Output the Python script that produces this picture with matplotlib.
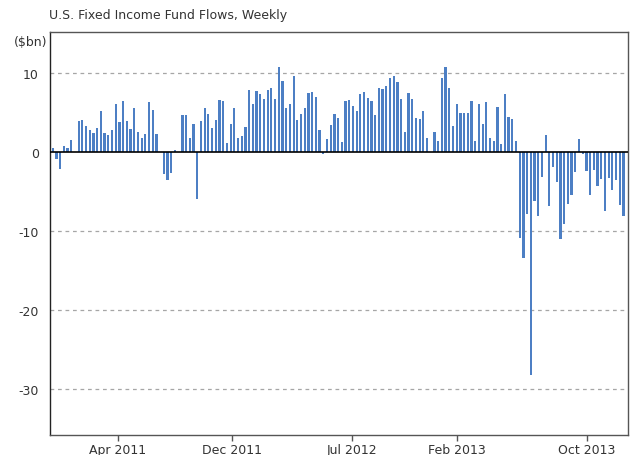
import numpy as np
import matplotlib
matplotlib.use('Agg')
from matplotlib import pyplot as plt

# weekly flows ($bn)
flows = [0.55, -0.9, -2.2, 0.75, 0.5, 1.5, 0, 3.9, 4.05, 3.25,
         2.8, 2.35, 3.1, 5.2, 2.35, 2.1, 2.8, 6.1, 3.85, 6.5,
         3.9, 2.95, 5.6, 2.55, 1.75, 2.3, 6.3, 5.3, 2.3, 0,
         -2.8, -3.5, -2.7, 0.3, 0, 4.75, 4.65, 1.8, 3.5, -5.9,
         3.9, 5.6, 4.8, 3.0, 4.1, 6.6, 6.4, 1.2, 3.5, 5.55,
         1.8, 2.05, 3.2, 7.85, 6.05, 7.7, 7.4, 6.65, 7.85, 8.15,
         6.65, 10.75, 8.95, 5.6, 6.05, 9.65, 4.1, 4.85, 5.6, 7.5,
         7.65, 7.0, 2.85, -0.3, 1.65, 3.45, 4.85, 4.35, 1.3, 6.5,
         6.55, 5.85, 5.2, 7.35, 7.6, 6.9, 6.5, 4.75, 8.15, 8.0,
         8.4, 9.4, 9.6, 8.8, 6.65, 2.55, 7.5, 6.65, 4.35, 4.2,
         5.2, 1.8, 0, 2.55, 1.4, 9.4, 10.75, 8.15, 3.35, 6.05,
         4.95, 4.9, 5.0, 6.4, 1.45, 6.05, 3.5, 6.35, 1.8, 1.45,
         5.75, 1.0, 7.4, 4.45, 4.2, 1.4, -10.85, -13.4, -7.9, -28.2,
         -6.2, -8.1, -3.1, 2.2, -6.8, -1.9, -3.8, -11.0, -9.15, -6.6,
         -5.4, -2.55, 1.7, -0.3, -2.45, -5.45, -2.3, -4.35, -3.35, -7.4,
         -3.25, -4.8, -3.6, -6.75, -8.1]

tick_labels = ['Apr 2011', 'Dec 2011', 'Jul 2012', 'Feb 2013', 'Oct 2013']
tick_pos = [17.5, 48.4, 80.8, 109.1, 144.2]  # week index where each label sits
y_ticks = [10, 0, -10, -20, -30]

plt.rcParams['font.family'] = ['DejaVu Sans']
fig = plt.figure(figsize=(6.33, 4.56), dpi=100)
ax = fig.add_axes([0.079, 0.044, 0.913, 0.8838])

x = np.arange(len(flows))
ax.bar(x, flows, width=0.6, color='#4d7fc4', zorder=3)
ax.axhline(0, color='black', lw=1.2, zorder=4)

ax.set_xlim(-0.73, 155.2)
ax.set_ylim(-35.8, 15.2)

ax.set_yticks(y_ticks)
ax.set_yticklabels([str(v) for v in y_ticks])
for v in y_ticks:
    if v != 0:
        ax.axhline(v, color='#a6a6a6', lw=0.9, ls=(0, (3, 3)), zorder=1)

ax.set_xticks(tick_pos)
ax.set_xticklabels(tick_labels)
ax.tick_params(axis='x', length=4, width=1, color='#555555', labelsize=9, labelcolor='#333333', pad=2)
ax.tick_params(axis='y', length=0, labelsize=9, labelcolor='#333333', pad=8)

for s in ax.spines.values():
    s.set_color('#555555')
    s.set_linewidth(1)
ax.spines['left'].set_color('#222222')

fig.text(49/633, 1 - 15/456, 'U.S. Fixed Income Fund Flows, Weekly', fontsize=9,
         color='#333333', va='center', ha='left')
fig.text(47/633, 1 - 43/456, '($bn)', fontsize=9, color='#333333', va='center', ha='right')

fig.savefig('out.png', dpi=100)
